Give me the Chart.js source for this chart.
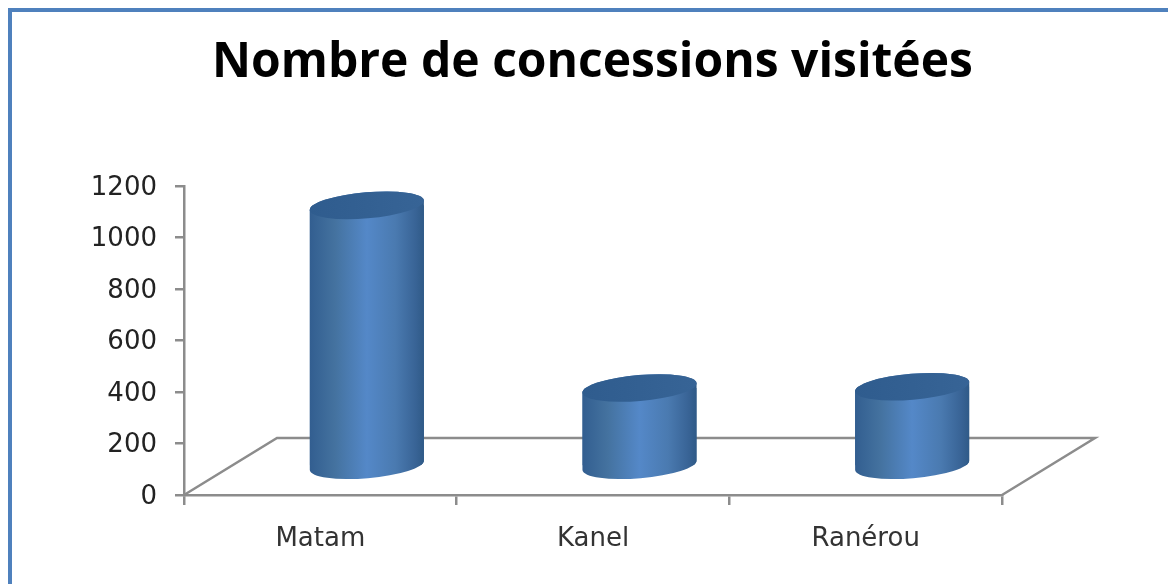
<!DOCTYPE html>
<html lang="fr">
<head>
<meta charset="utf-8">
<title>Nombre de concessions visitées</title>
<script src="https://cdn.jsdelivr.net/npm/chart.js@4"></script>
<style>
  html, body { margin: 0; padding: 0; background: #fff; overflow: hidden; }
  #wrap { position: relative; width: 1168px; height: 584px; }
  #frame { position: absolute; left: 8px; top: 8px; right: 0; bottom: 0;
    border-left: 4px solid #4f81bd; border-top: 4px solid #4f81bd; }
  canvas { position: absolute; left: 0; top: 0; }
</style>
</head>
<body>
<div id="wrap">
  <div id="frame"></div>
  <canvas id="concessions" width="1168" height="584"></canvas>
</div>
<script>
const titleText = "Nombre de concessions visitées";
const categories = ["Matam", "Kanel", "Ranérou"];
const visits = [1015, 305, 310];
const yTicks = [0, 200, 400, 600, 800, 1000, 1200];

const axisGray = "#8c8c8c";
const barPercent = 0.42;
// depth of the fake 3D floor
const depthX = 93;
const depthY = 57;
const capRy = 13;
const capTilt = -0.085;

function sideGradient(c, left, right) {
  const g = c.createLinearGradient(left, 0, right, 0);
  g.addColorStop(0, "#325e90");
  g.addColorStop(0.22, "#44729f");
  g.addColorStop(0.5, "#5488c8");
  g.addColorStop(0.75, "#4a7ab0");
  g.addColorStop(0.93, "#386395");
  g.addColorStop(1, "#2f5a87");
  return g;
}

function cylinderPath(c, bar) {
  const rx = bar.width / 2;
  c.moveTo(bar.x + rx * Math.cos(capTilt), bar.base + rx * Math.sin(capTilt));
  c.ellipse(bar.x, bar.base, rx, capRy, capTilt, 0, Math.PI);
  c.ellipse(bar.x, bar.y, rx, capRy, capTilt, Math.PI, 2 * Math.PI);
  c.closePath();
}

const cylinderPlugin = {
  id: "cylinder",
  beforeDatasetsDraw(chart) {
    const a = chart.chartArea;
    const c = chart.ctx;
    c.save();
    c.strokeStyle = axisGray;
    c.lineWidth = 2.5;
    c.beginPath();
    c.moveTo(a.left, a.bottom);
    c.lineTo(a.left + depthX, a.bottom - depthY);
    c.lineTo(a.right + depthX, a.bottom - depthY);
    c.lineTo(a.right, a.bottom);
    c.stroke();
    c.restore();
  },
  beforeDatasetDraw(chart, args) {
    const c = chart.ctx;
    c.save();
    c.translate(depthX / 2, -depthY / 2);
    const bars = args.meta.data;
    // rounded bottom rim + clip so the square bar corners stay hidden
    bars.forEach(bar => {
      c.fillStyle = sideGradient(c, bar.x - bar.width / 2, bar.x + bar.width / 2);
      c.beginPath();
      cylinderPath(c, bar);
      c.fill();
    });
    c.beginPath();
    bars.forEach(bar => cylinderPath(c, bar));
    c.clip();
  },
  afterDatasetDraw(chart, args) {
    const c = chart.ctx;
    c.restore();
    c.save();
    c.translate(depthX / 2, -depthY / 2);
    args.meta.data.forEach(bar => {
      const rx = bar.width / 2;
      const g = c.createLinearGradient(bar.x - rx, 0, bar.x + rx, 0);
      g.addColorStop(0, "#2f5c8e");
      g.addColorStop(1, "#376496");
      c.fillStyle = g;
      c.beginPath();
      c.ellipse(bar.x, bar.y, rx, capRy, capTilt, 0, 2 * Math.PI);
      c.fill();
    });
    c.restore();
  }
};

new Chart(document.getElementById("concessions"), {
  type: "bar",
  plugins: [cylinderPlugin],
  data: {
    labels: categories,
    datasets: [{
      label: "Concessions",
      data: visits,
      barPercentage: barPercent,
      categoryPercentage: 1,
      borderWidth: 0,
      backgroundColor: function (context) {
        const x = context.chart.scales.x;
        if (!x || context.dataIndex === undefined) return "#4f81bd";
        const cx = x.getPixelForValue(context.dataIndex);
        const w = x.width / categories.length * barPercent;
        // scales are not laid out yet on the first pass
        if (!isFinite(cx) || !isFinite(w)) return "#4f81bd";
        return sideGradient(context.chart.ctx, cx - w / 2, cx + w / 2);
      }
    }]
  },
  options: {
    responsive: false,
    animation: false,
    layout: { padding: { left: 17, right: 0, top: 0, bottom: 0 } },
    plugins: {
      legend: { display: false },
      tooltip: { enabled: false },
      title: {
        display: true,
        text: titleText,
        color: "#000",
        font: { family: "Open Sans", size: 48, weight: "bold", lineHeight: 1.15 },
        padding: { top: 36, bottom: 95 }
      }
    },
    scales: {
      x: {
        afterFit(scale) { scale.height = 89; },
        grid: { drawOnChartArea: false, color: axisGray, lineWidth: 2.5, tickLength: 10 },
        border: { color: axisGray, width: 2.5 },
        ticks: { color: "#333", padding: 19, font: { family: "DejaVu Sans", size: 26 }, maxRotation: 0 }
      },
      y: {
        min: 0,
        max: 1200,
        afterFit(scale) { scale.width = 167; },
        afterBuildTicks(scale) { scale.ticks = yTicks.map(v => ({ value: v })); },
        grid: { drawOnChartArea: false, color: axisGray, lineWidth: 2.5, tickLength: 9 },
        border: { color: axisGray, width: 2.5 },
        ticks: {
          color: "#222",
          padding: 18,
          labelOffset: 2,
          font: { family: "DejaVu Sans", size: 26 },
          callback: v => String(v)
        }
      },
      // empty axis that only reserves the room for the floor on the right,
      // so the title stays centred over the whole frame
      spare: {
        position: "right",
        afterFit(scale) { scale.width = 166; },
        grid: { display: false },
        border: { display: false },
        ticks: { display: false }
      }
    }
  }
});
</script>
</body>
</html>
